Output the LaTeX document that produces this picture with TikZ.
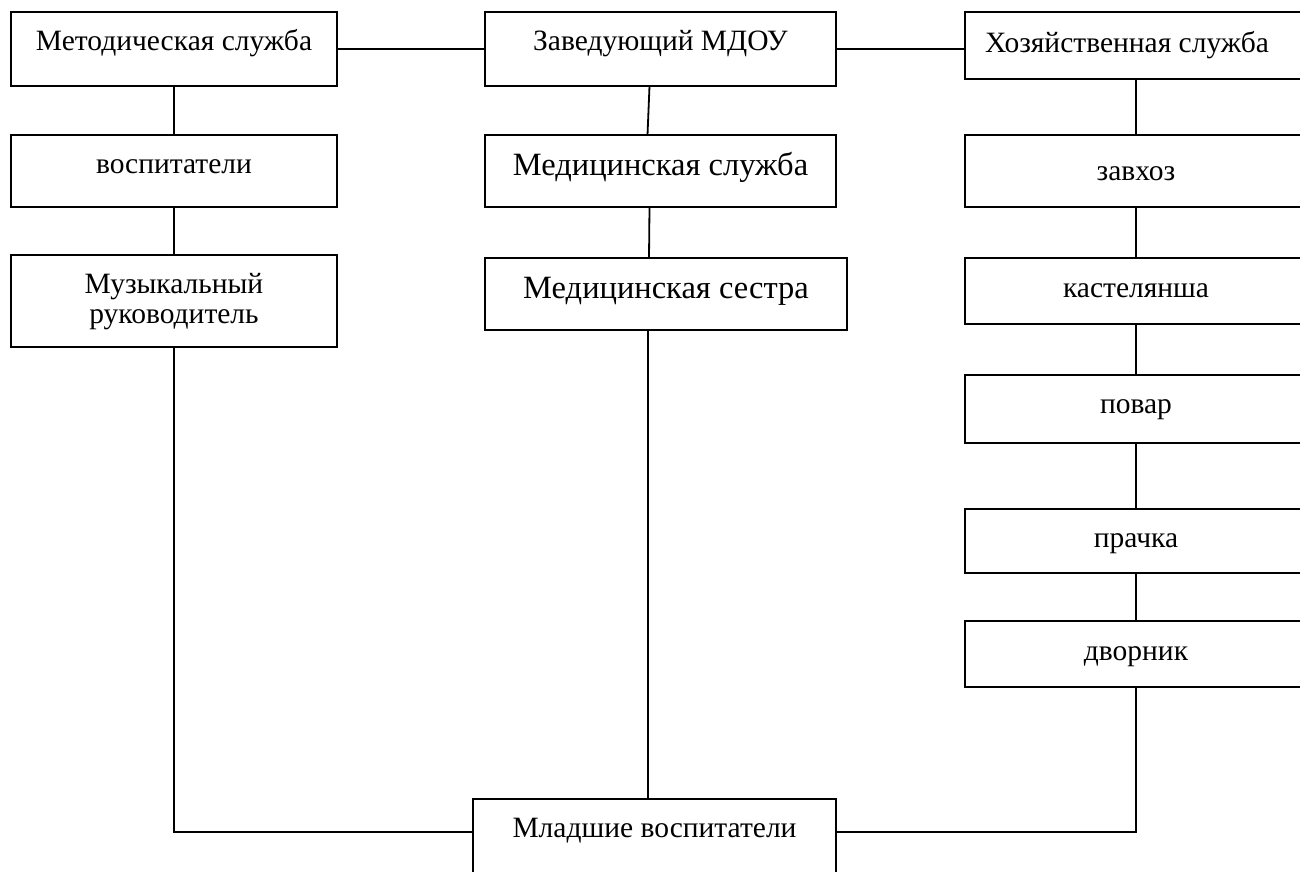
\documentclass[tikz,border=0pt]{standalone}
\usepackage{fontspec}
\setmainfont{Liberation Serif}
\begin{document}
\begin{tikzpicture}[x=1pt,y=-1pt,
                    box/.style = {draw,line width=1.8pt,rectangle,inner sep=0pt,outer sep=0pt,anchor=north west,font=\fontsize{29.5}{30}\selectfont},
                    big/.style = {font=\fontsize{32.5}{36}\selectfont},
                    line/.style = {line width=1.8pt}]
                    \path[use as bounding box,clip] (0,0) rectangle (1300,871);

                    % left column
                    \node[box,minimum width=326pt,minimum height=74pt,text height=38pt,text depth=36pt] (metod) at (11,12) {Методическая служба};
                    \node[box,minimum width=326pt,minimum height=72pt,text height=38pt,text depth=34pt] (vosp) at (11,135) {воспитатели};
                    \node[box,minimum width=326pt,minimum height=92pt,text height=38pt,text depth=54pt] (muz) at (11,255) {\begin{tabular}[t]{@{}c@{}}Музыкальный\\руководитель\end{tabular}};

                    % middle column
                    \node[box,minimum width=351pt,minimum height=74pt,text height=38pt,text depth=36pt] (zav) at (485,12) {Заведующий МДОУ};
                    \node[box,big,minimum width=351pt,minimum height=72pt,text height=40pt,text depth=32pt] (medsl) at (485,135) {Медицинская служба};
                    \node[box,big,minimum width=362pt,minimum height=72pt,text height=40pt,text depth=32pt] (medsestra) at (485,258) {Медицинская сестра};
                    \node[box,minimum width=363pt,minimum height=100pt,text height=38pt,text depth=62pt] (mladsh) at (473,799) {Младшие воспитатели};

                    % right column
                    \node[box,minimum width=342pt,minimum height=67pt,text height=40pt,text depth=27pt] (khoz) at (965,12) {Хозяйственная служба\hspace*{18pt}};
                    \node[box,minimum width=342pt,minimum height=72pt,text height=45pt,text depth=27pt] (zavkhoz) at (965,135) {завхоз};
                    \node[box,minimum width=342pt,minimum height=66pt,text height=39pt,text depth=27pt] (kastel) at (965,258) {кастелянша};
                    \node[box,minimum width=342pt,minimum height=68pt,text height=38pt,text depth=30pt] (povar) at (965,375) {повар};
                    \node[box,minimum width=342pt,minimum height=64pt,text height=38pt,text depth=26pt] (prachka) at (965,509) {прачка};
                    \node[box,minimum width=342pt,minimum height=66pt,text height=39pt,text depth=27pt] (dvornik) at (965,621) {дворник};

                    \draw[line] (metod.east) -- (zav.west);
                    \draw[line] (zav.east) -- (zav.east -| khoz.west);
                    \draw[line] (metod.south) -- (vosp.north);
                    \draw[line] (vosp.south) -- (muz.north);
                    \draw[line] ([xshift=-11pt]zav.south) -- ([xshift=-13pt]medsl.north);
                    \draw[line] ([xshift=-11pt]medsl.south) -- ([xshift=-17pt]medsestra.north);
                    \draw[line] ([xshift=-18pt]medsestra.south) -- ([xshift=-6.5pt]mladsh.north);
                    \foreach \a/\b in {khoz/zavkhoz,zavkhoz/kastel,kastel/povar,povar/prachka,prachka/dvornik}
                        \draw[line] (\a.south) -- (\b.north);
                    \draw[line] (muz.south) |- ([yshift=-33pt]mladsh.north west);
                    \draw[line] (dvornik.south) |- ([yshift=-33pt]mladsh.north east);
                \end{tikzpicture}
\end{document}
